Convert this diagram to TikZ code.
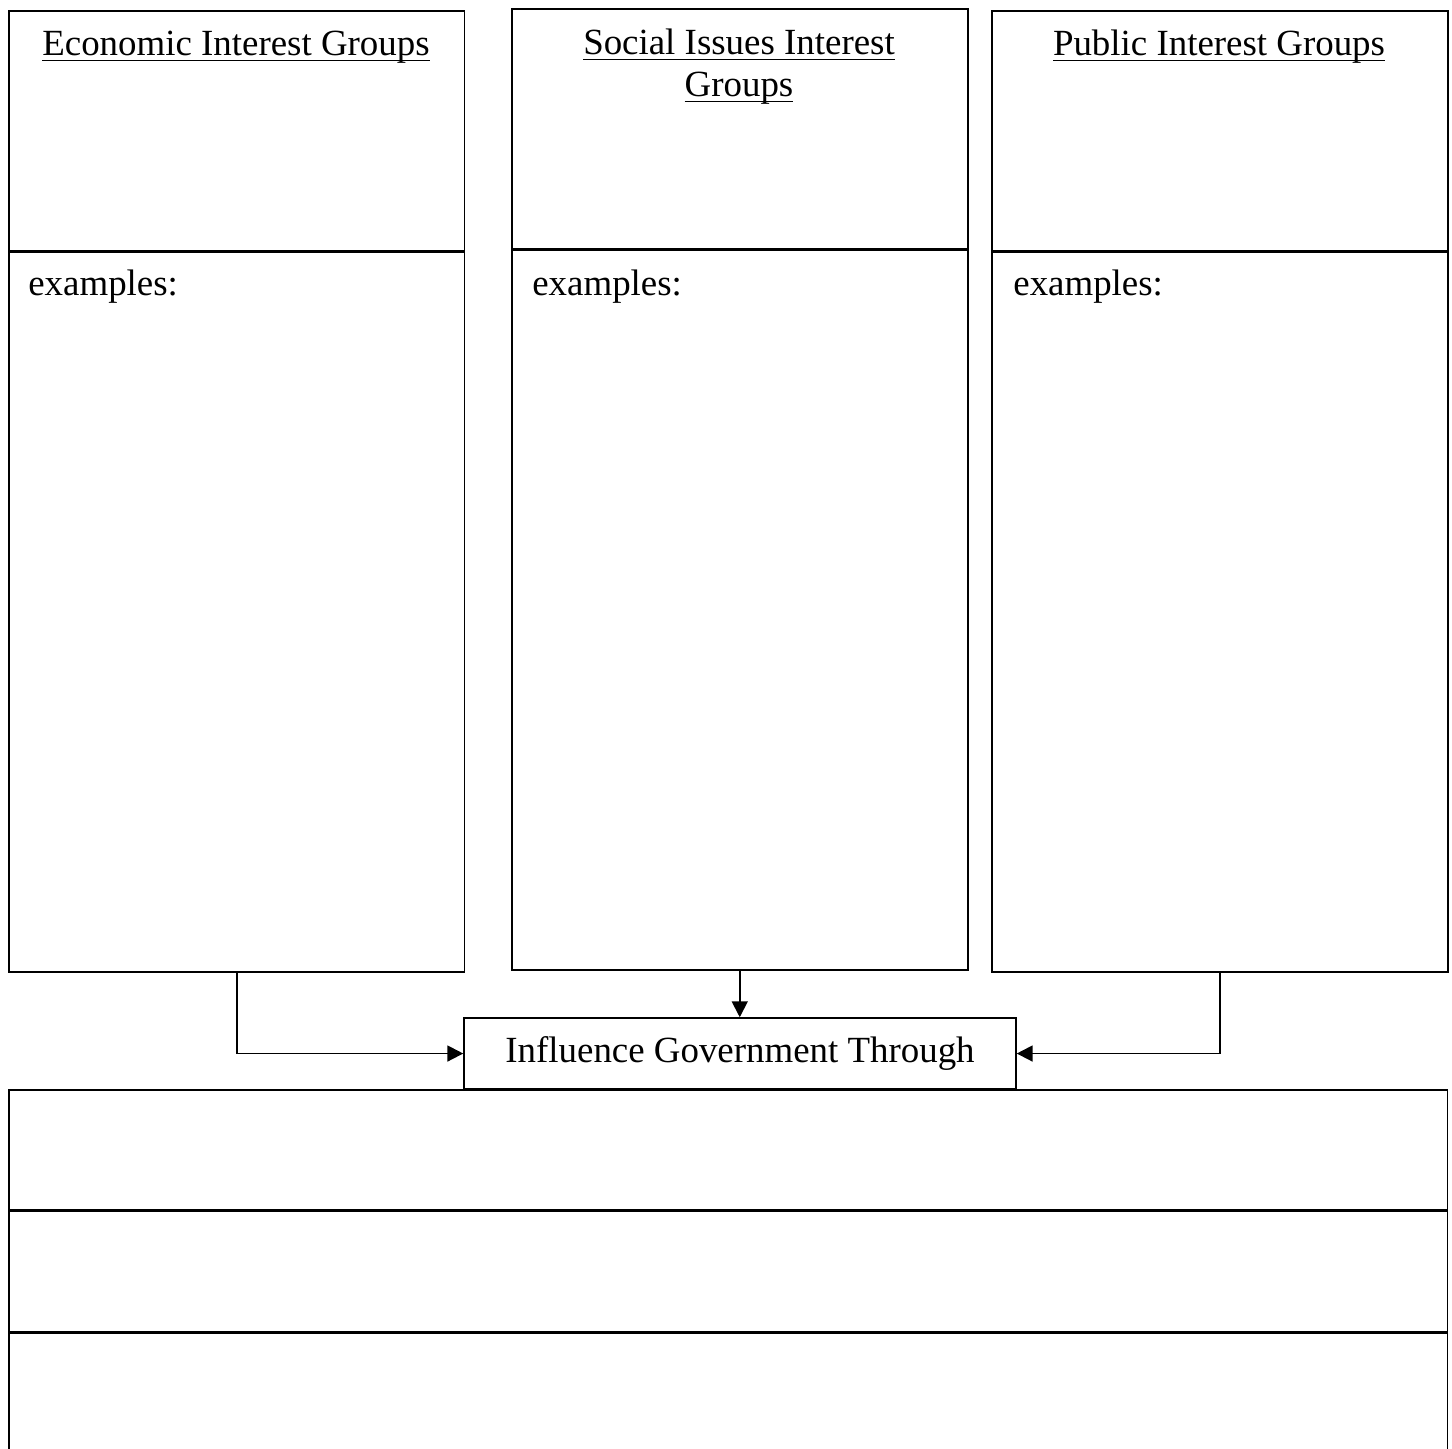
\documentclass[tikz,border=0pt]{standalone}
\usepackage{fontspec}
\setmainfont{Liberation Serif}
\usepackage{tikz}
\usetikzlibrary{arrows.meta, positioning}
\newcommand{\titleline}[1]{\setbox0\hbox{#1}\rlap{\rule[-3.3pt]{\wd0}{0.6pt}}\box0}

\begin{document}
\begin{tikzpicture}[
    x=0.02cm, y=-0.02cm,
    every node/.style={font=\fontsize{21}{23.8}\selectfont},
    header/.style={draw, line width=0.9pt, anchor=north west, inner sep=0pt, minimum width=9.12cm, minimum height=4.8cm},
    body/.style={draw, line width=0.9pt, anchor=north west, inner sep=0pt, minimum width=9.12cm, minimum height=14.4cm},
    row/.style={draw, line width=0.9pt, anchor=north west, inner sep=0pt, minimum width=28.78cm, minimum height=2.4cm},
    hub/.style={draw, line width=0.9pt, inner sep=0pt, minimum width=11.04cm, minimum height=1.42cm},
    title/.style={anchor=base, align=center, inner sep=0pt},
    hint/.style={anchor=base west, inner sep=0pt},
    flow/.style={-{Triangle[length=9pt, width=9pt]}, line width=1.1pt}
]
    \clip (0,0) rectangle (1452,1448);

    % Group columns
    \node[header] (econH) at (8, 10) {};
    \node[body] (econB) at (econH.south west) {};
    \node[header] (socH) at (511, 8) {};
    \node[body] (socB) at (socH.south west) {};
    \node[header] (pubH) at (991, 10) {};
    \node[body] (pubB) at (pubH.south west) {};

    % Titles
    \node[title] (econT) at (236, 55) {\titleline{Economic Interest Groups}};
    \node[title] (socT) at (739, 96) {\titleline{Social Issues Interest}\\\titleline{Groups}};
    \node[title] (pubT) at (1219, 55) {\titleline{Public Interest Groups}};
    \node[hint] (econX) at (28, 295) {examples:};
    \node[hint] (socX) at (532, 295) {examples:};
    \node[hint] (pubX) at (1013, 295) {examples:};

    % Influence
    \node[hub] (infl) at (740, 1053.5) {Influence Government Through};
    \node[row] (row1) at (8, 1089) {};
    \node[row] (row2) at (row1.south west) {};
    \node[row] (row3) at (row2.south west) {};

    % Arrows
    \draw[flow] (econB.south) |- (infl.west);
    \draw[flow] (socB.south) -- (socB.south |- infl.north);
    \draw[flow] (pubB.south) |- (infl.east);
\end{tikzpicture}
\end{document}
